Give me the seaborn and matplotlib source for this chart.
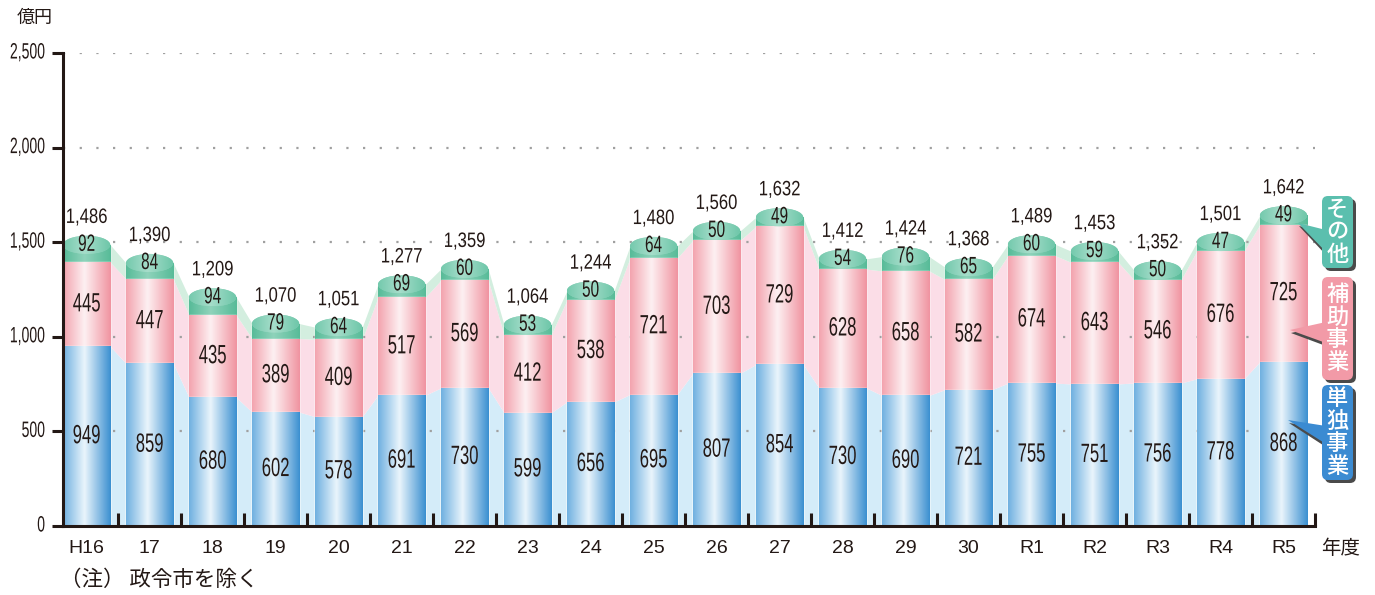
import numpy as np
import matplotlib
matplotlib.use("Agg")
import matplotlib.pyplot as plt
import matplotlib.patheffects as pe
import seaborn as sns
from matplotlib.patches import Ellipse, FancyBboxPatch, Polygon
from matplotlib.colors import LinearSegmentedColormap
from matplotlib.transforms import Affine2D

# data (億円)
years = ["H16", "17", "18", "19", "20", "21", "22", "23", "24", "25",
         "26", "27", "28", "29", "30", "R1", "R2", "R3", "R4", "R5"]
single = [949, 859, 680, 602, 578, 691, 730, 599, 656, 695,
          807, 854, 730, 690, 721, 755, 751, 756, 778, 868]
subsidy = [445, 447, 435, 389, 409, 517, 569, 412, 538, 721,
           703, 729, 628, 658, 582, 674, 643, 546, 676, 725]
other = [92, 84, 94, 79, 64, 69, 60, 53, 50, 64,
         50, 49, 54, 76, 65, 60, 59, 50, 47, 49]
yticks = [0, 500, 1000, 1500, 2000, 2500]
ytick_labels = ["0", "500", "1,000", "1,500", "2,000", "2,500"]

single = np.array(single)
mid = single + np.array(subsidy)
total = mid + np.array(other)

sns.set_theme(style="white")
num_font = ["Liberation Sans", "DejaVu Sans"]
jp_font = ["Noto Sans CJK JP", "DejaVu Sans"]
plt.rcParams["font.family"] = num_font
ink = "#231815"


class Narrow(pe.AbstractPathEffect):
    """squeeze glyphs horizontally around the text anchor (condensed look)"""
    def __init__(self, text, sx):
        super().__init__()
        self.text = text
        self.sx = sx

    def draw_path(self, renderer, gc, tpath, affine, rgbFace=None):
        cx = self.text.get_transform().transform(self.text.get_position())[0]
        squeeze = Affine2D().translate(-cx, 0).scale(self.sx, 1).translate(cx, 0)
        renderer.draw_path(gc, tpath, affine + squeeze, rgbFace)


def narrow_text(ax, x, y, s, size, sx, **kw):
    t = ax.text(x, y, s, ha="center", va="center", fontsize=size, color=ink, zorder=6, **kw)
    t.set_path_effects([Narrow(t, sx)])
    return t


W, H = 1375, 595
AX_L, AX_R, AX_T, AX_B = 63, 1315, 53, 526
fig = plt.figure(figsize=(W / 100, H / 100), dpi=100)
ax = fig.add_axes([AX_L / W, 1 - AX_B / H, (AX_R - AX_L) / W, (AX_B - AX_T) / H])

bw = 0.75
# bars drawn tallest first, via seaborn
sns.barplot(x=years, y=total, color="#5dbf9d", width=bw, ax=ax, zorder=2)
sns.barplot(x=years, y=mid, color="#f29aa6", width=bw, ax=ax, zorder=3)
sns.barplot(x=years, y=single, color="#3e94d4", width=bw, ax=ax, zorder=4)

n = len(years)

# connecting fills between bars
xs = np.ravel([[i - bw / 2, i + bw / 2] for i in range(n)])
rep = lambda a: np.repeat(a, 2)
ax.fill_between(xs, 0, rep(single), color="#d4ecf9", lw=0, zorder=0.5)
ax.fill_between(xs, rep(single), rep(mid), color="#fbdde7", lw=0, zorder=0.5)
ax.fill_between(xs, rep(mid), rep(total), color="#d3eedf", lw=0, zorder=0.5)

# dotted grid
for yv in yticks[1:]:
    ax.axhline(yv, color="#a0a0a0", lw=1.6, ls=(0, (1, 6.5)), zorder=1)


def grad_cmap(edge_l, center, edge_r):
    return LinearSegmentedColormap.from_list(
        "g", [(0, edge_l), (0.45, center), (1, edge_r)])


cmaps = [grad_cmap("#6fb0e0", "#eaf5fc", "#3a8fd0"),
         grad_cmap("#f3a3ae", "#fdf0f2", "#f093a0"),
         grad_cmap("#57bb98", "#8fd3bb", "#57bb98")]
gimg = np.linspace(0, 1, 256).reshape(1, -1)

# containers: 0 total, 1 mid, 2 single
for cont, cm, z in zip(ax.containers, [cmaps[2], cmaps[1], cmaps[0]], [2, 3, 4]):
    for rect in cont:
        x0, y0 = rect.get_x(), rect.get_y()
        w, h = rect.get_width(), rect.get_height()
        im = ax.imshow(gimg, cmap=cm, extent=[x0, x0 + w, y0, y0 + h],
                       aspect="auto", zorder=z + 0.1, interpolation="bilinear")
        im.set_clip_path(rect)

# cylinder caps on top
cap_cm = grad_cmap("#74c9ad", "#a6ddca", "#6cc6a8")
for i in range(n):
    el = Ellipse((i, total[i]), bw, 96, facecolor="#8fd3bb", edgecolor="none", zorder=5)
    ax.add_patch(el)
    im = ax.imshow(gimg, cmap=cap_cm, extent=[i - bw / 2, i + bw / 2, total[i] - 48, total[i] + 48],
                   aspect="auto", zorder=5.1, interpolation="bilinear")
    im.set_clip_path(el)

ax.set_xlim(-bw / 2, n - 0.5)
ax.set_ylim(0, 2500)

# value labels
for i in range(n):
    narrow_text(ax, i, single[i] / 2, f"{single[i]}", 19, 0.63)
    narrow_text(ax, i, (single[i] + mid[i]) / 2, f"{subsidy[i]}", 19, 0.63)
    narrow_text(ax, i, total[i], f"{other[i]}", 17, 0.65)
    narrow_text(ax, i, total[i] + 145, f"{total[i]:,}", 15, 0.8)

# axes styling
for s in ["top", "right"]:
    ax.spines[s].set_visible(False)
for s in ["left", "bottom"]:
    ax.spines[s].set_color(ink)
    ax.spines[s].set_linewidth(2.2)
    ax.spines[s].set_zorder(7)

ax.set_yticks(yticks)
ax.tick_params(axis="y", direction="out", length=8, width=2.2, color=ink,
               left=True, labelleft=False)
# y labels as condensed texts, right edge ~18px left of the spine
ylabs = [narrow_text(ax, 0, v, s, 16, 0.63, transform=ax.get_yaxis_transform(), clip_on=False)
         for v, s in zip(yticks, ytick_labels)]

ax.set_xticks(range(n))
ax.set_xticklabels(years)
ax.tick_params(axis="x", length=0, labelsize=14, labelcolor=ink, pad=10, bottom=True)
ax.set_xticks([i + 0.5 for i in range(n)], minor=True)
ax.tick_params(axis="x", which="minor", direction="in", length=9.5, width=2.2,
               color=ink, bottom=True)
ax.set_xlabel("")
ax.set_ylabel("")
ax.grid(False)

fig.canvas.draw()
for t in ylabs:
    wpx = t.get_window_extent().width * 0.63
    cx = AX_L - 18 - wpx / 2
    t.set_x((cx - AX_L) / (AX_R - AX_L))

# overlay in pixel coords for annotations
ov = fig.add_axes([0, 0, 1, 1], zorder=10)
ov.set_xlim(0, W)
ov.set_ylim(H, 0)
ov.axis("off")
ov.patch.set_alpha(0)

ov.text(17, 18, "億円", family=jp_font, fontsize=13, color=ink, va="center", ha="left")
ov.text(1321, 549, "年度", family=jp_font, fontsize=14, color=ink, va="center", ha="left")
ov.text(60, 580, "（注） 政令市を除く", family=jp_font, fontsize=15.5, color=ink, va="center", ha="left")

legend_items = [
    ("そ\nの\n他", "#5bbfae", 1322, 196, 268, (1298, 223), (230, 252)),
    ("補\n助\n事\n業", "#f29aa7", 1322, 277, 380, (1290, 330), (322, 343)),
    ("単\n独\n事\n業", "#3b8bd2", 1322, 385, 480, (1288, 420), (426, 444)),
]
for txt, col, bx, top, bot, tip, base in legend_items:
    bwid = 31
    # pointer shadow + pointer
    ov.add_patch(Polygon([(tip[0] + 1, tip[1] + 3), (bx + 4, base[0] + 3), (bx + 4, base[1] + 3)],
                         closed=True, facecolor="#4a4a4a", edgecolor="none", zorder=1))
    ov.add_patch(Polygon([tip, (bx + 4, base[0]), (bx + 4, base[1])],
                         closed=True, facecolor=col, edgecolor="none", zorder=2))
    # box shadow + box
    ov.add_patch(FancyBboxPatch((bx + 3 + 6, top + 3 + 6), bwid - 12, bot - top - 12,
                                boxstyle="round,pad=6", facecolor="#4a4a4a", edgecolor="none", zorder=1))
    ov.add_patch(FancyBboxPatch((bx + 6, top + 6), bwid - 12, bot - top - 12,
                                boxstyle="round,pad=6", facecolor=col, edgecolor="none", zorder=2))
    ov.text(bx + bwid / 2, (top + bot) / 2, txt, family=jp_font, fontsize=16, color="white",
            ha="center", va="center", linespacing=0.98, zorder=3, fontweight="medium")

fig.savefig("out.png", dpi=100)
